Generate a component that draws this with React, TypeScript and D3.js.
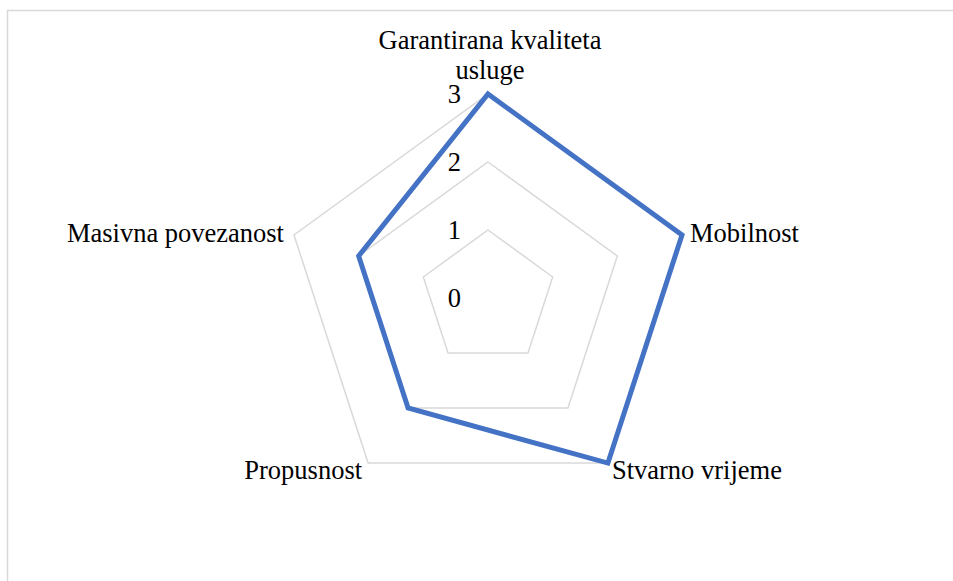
import React from 'react';
import * as d3 from 'd3';

const categories = ['Garantirana kvaliteta usluge', 'Mobilnost', 'Stvarno vrijeme', 'Propusnost', 'Masivna povezanost'];
const values = [3, 3, 3, 2, 2];
const ticks = [0, 1, 2, 3];

const W = 953;
const H = 581;
const cx = 488;
const cy = 298;
const font = '"Liberation Serif", "Times New Roman", serif';

const App = () => {
    const r = d3.scaleLinear().domain([0, 3]).range([0, 204]);
    const angle = d3.scaleLinear().domain([0, categories.length]).range([0, 2 * Math.PI]);

    const radial = d3.lineRadial<number>()
        .angle((d, i) => angle(i))
        .radius(d => r(d))
        .curve(d3.curveLinearClosed);

    const point = (i: number, v: number) => {
        const a = angle(i);
        return [cx + r(v) * Math.sin(a), cy - r(v) * Math.cos(a)];
    };

    // label offsets from the outer vertex, per axis
    const labelPos = [
        { dx: 0, dy: -45, anchor: 'middle' },
        { dx: 8, dy: 7, anchor: 'start' },
        { dx: 4, dy: 16, anchor: 'start' },
        { dx: -6, dy: 16, anchor: 'end' },
        { dx: -10, dy: 7, anchor: 'end' },
    ];

    return (
        <svg width={W} height={H} style={{ position: 'absolute', left: 0, top: 0, background: '#fff' }}>
            <rect x={7.5} y={10.5} width={W + 20} height={H + 20} fill="#fff" stroke="#d9d9d9" strokeWidth={1.5} />
            <g transform={`translate(${cx},${cy})`}>
                {ticks.filter(t => t > 0).map(t => (
                    <path key={t} d={radial(categories.map(() => t)) || ''} fill="none" stroke="#d9d9d9" strokeWidth={1.5} />
                ))}
                <path d={radial(values) || ''} fill="none" stroke="#4472c4" strokeWidth={5} strokeLinejoin="miter" />
            </g>
            {ticks.map(t => (
                <text key={t} x={cx - 27} y={cy - r(t)} textAnchor="end" dominantBaseline="central"
                    fontFamily={font} fontSize={26.5} fill="#000">{t}</text>
            ))}
            {categories.map((c, i) => {
                const [x, y] = point(i, 3);
                const p = labelPos[i];
                if (i === 0) {
                    return (
                        <text key={c} x={x + 2} y={y + p.dy} textAnchor="middle" fontFamily={font} fontSize={26.5} fill="#000">
                            <tspan x={x + 2}>Garantirana kvaliteta</tspan>
                            <tspan x={x + 2} dy={30}>usluge</tspan>
                        </text>
                    );
                }
                return (
                    <text key={c} x={x + p.dx} y={y + p.dy} textAnchor={p.anchor} fontFamily={font} fontSize={26.5} fill="#000">{c}</text>
                );
            })}
        </svg>
    );
};

export default App;
